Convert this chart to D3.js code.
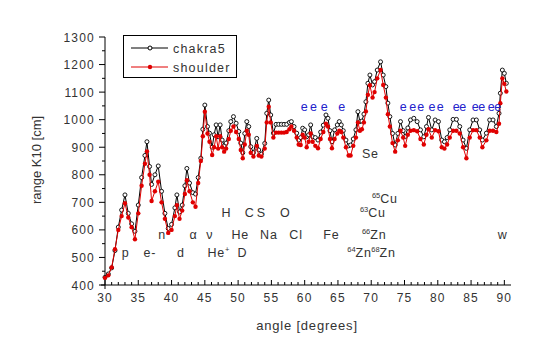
<!DOCTYPE html>
<html>
<head>
<meta charset="utf-8">
<script src="https://cdn.jsdelivr.net/npm/d3@7"></script>
<style>
  body { margin: 0; background: #fff; }
  text { font-family: "Liberation Sans", Arial, sans-serif; fill: #333; }
</style>
</head>
<body>
<div id="chart"></div>
<script>
const angles = [30.0,30.5,31.0,31.5,32.0,32.5,33.0,33.5,34.0,34.5,35.0,35.5,36.0,36.3,36.7,37.0,37.5,38.0,38.5,39.0,39.5,40.0,40.5,40.8,41.2,41.6,42.0,42.3,42.7,43.2,43.6,44.0,44.4,44.7,45.0,45.4,45.7,46.1,46.4,46.7,47.0,47.3,47.6,47.9,48.2,48.6,48.9,49.3,49.7,50.1,50.4,50.7,51.0,51.3,51.6,51.9,52.3,52.8,53.1,53.5,54.0,54.3,54.6,54.9,55.3,55.7,56.1,56.5,56.9,57.3,57.7,58.0,58.4,58.8,59.1,59.4,59.7,60.0,60.3,60.6,60.9,61.2,61.6,62.0,62.4,62.8,63.2,63.5,63.8,64.1,64.5,64.9,65.2,65.5,65.8,66.2,66.6,66.9,67.3,67.7,68.0,68.3,68.6,68.9,69.2,69.5,69.8,70.2,70.5,70.9,71.4,71.8,72.2,72.5,72.8,73.2,73.6,74.0,74.4,74.8,75.1,75.5,75.9,76.4,76.9,77.4,77.9,78.3,78.6,79.1,79.6,80.1,80.6,81.0,81.4,81.8,82.3,82.8,83.3,83.8,84.3,84.8,85.3,85.8,86.3,86.7,87.3,87.8,88.3,88.8,89.2,89.4,89.7,90.0,90.3];

const chakra5 = [428,440,462,525,610,672,727,660,622,595,690,790,870,920,830,765,800,832,740,660,605,620,680,727,665,690,760,823,770,735,730,790,860,965,1053,975,951,900,945,981,938,981,926,905,915,960,993,1011,987,957,915,880,950,993,975,902,880,932,890,875,914,1023,1071,1017,951,983,983,983,983,983,990,993,975,951,926,935,969,963,938,945,981,938,935,926,955,980,1017,1005,960,920,963,981,993,981,960,926,905,908,930,963,1029,993,995,1020,1065,1132,1162,1126,1138,1180,1210,1162,1120,1060,1011,950,908,950,993,960,938,970,999,1005,993,963,938,975,1008,963,999,993,926,920,935,963,1001,1001,975,926,896,963,999,999,963,926,951,999,999,975,1023,1096,1180,1168,1132];

const shoulder = [426,435,464,530,600,650,697,645,610,566,660,760,840,885,800,705,740,775,700,640,589,600,650,690,640,670,730,780,740,700,684,770,850,940,1029,950,920,872,900,940,895,940,900,884,895,930,960,975,955,930,890,860,910,960,945,880,866,905,870,866,895,990,1047,990,935,953,953,953,953,955,965,975,960,935,910,908,945,935,900,920,950,920,905,896,930,955,985,975,930,896,930,950,960,955,935,900,870,870,905,935,990,960,965,990,1030,1090,1125,1080,1100,1150,1180,1126,1080,1020,975,915,884,925,960,935,905,945,960,962,958,930,910,945,965,935,962,958,900,895,910,935,960,960,950,900,860,935,962,962,935,900,925,960,960,955,985,1060,1150,1130,1102];

const xTicks = [30,35,40,45,50,55,60,65,70,75,80,85,90];
const yTicks = [400,500,600,700,800,900,1000,1100,1200,1300];

// element labels: [text, superscript, angle, value] (left edge, baseline)
const elementLabels = [
  ["p", "", 32.5, 503], ["e-", "", 35.8, 503], ["d", "", 40.8, 503],
  ["He", "+", 45.4, 503], ["D", "", 49.9, 503],
  ["n", "", 38.0, 567], ["\u03b1", "", 42.7, 567], ["\u03bd", "", 45.2, 567],
  ["He", "", 49.0, 567], ["Na", "", 53.3, 567], ["Cl", "", 57.7, 567], ["Fe", "", 62.8, 567],
  ["H", "", 47.5, 646], ["C", "", 51.0, 646], ["S", "", 52.8, 646], ["O", "", 56.3, 646],
  ["Se", "", 68.6, 860],
  ["Zn", "64", 66.4, 503], ["Zn", "68", 70.0, 503], ["Zn", "66", 68.6, 567],
  ["Cu", "63", 68.3, 648], ["Cu", "65", 70.1, 698],
  ["w", "", 89.0, 567]
];
const blueText = ["e", "e", "e", "e", "e", "e", "e", "e", "e", "ee", "ee", "ee"];
const blueAngles = [59.4, 60.8, 62.4, 65.05, 74.3, 75.7, 76.9, 78.6, 79.85, 82.25, 85.1, 87.5];

const width = 543, height = 362;
const svg = d3.select("#chart").append("svg")
  .attr("width", width).attr("height", height);

const x = d3.scaleLinear().domain([30, 91]).range([105, 511]);
const y = d3.scaleLinear().domain([400, 1300]).range([285, 37]);

// x axis: ticks pointing up
const gx = svg.append("g").attr("transform", "translate(0,285)");
gx.append("line").attr("x1", 101).attr("x2", 511).attr("stroke", "#000");
gx.selectAll(".minor").data(d3.range(30, 91)).enter().append("line")
  .attr("x1", d => x(d)).attr("x2", d => x(d))
  .attr("y1", 0).attr("y2", d => d % 5 === 0 ? -5 : -3)
  .attr("stroke", "#000");
gx.selectAll("text").data(xTicks).enter().append("text")
  .attr("x", d => x(d)).attr("y", 17)
  .attr("text-anchor", "middle").attr("font-size", 12)
  .attr("letter-spacing", 1.2)
  .text(d => d);

// y axis: ticks pointing left
const gy = svg.append("g").attr("transform", "translate(105,0)");
gy.append("line").attr("y1", 37).attr("y2", 289).attr("stroke", "#000");
gy.selectAll(".minor").data(d3.range(400, 1301, 50)).enter().append("line")
  .attr("y1", d => y(d)).attr("y2", d => y(d))
  .attr("x1", 0).attr("x2", d => d % 100 === 0 ? -6 : -3)
  .attr("stroke", "#000");
gy.selectAll("text").data(yTicks).enter().append("text")
  .attr("x", -10).attr("y", d => y(d) + 4.5)
  .attr("text-anchor", "end").attr("font-size", 12)
  .attr("letter-spacing", 1.2)
  .text(d => d);

svg.append("text").attr("x", 307).attr("y", 330)
  .attr("text-anchor", "middle").attr("font-size", 13)
  .attr("letter-spacing", 0.8)
  .text("angle [degrees]");
svg.append("text")
  .attr("transform", "translate(41,160) rotate(-90)")
  .attr("text-anchor", "middle").attr("font-size", 13)
  .text("range K10 [cm]");

const line = d3.line().x((d, i) => x(angles[i])).y(d => y(d));

// chakra5 series
svg.append("path").datum(chakra5).attr("d", line)
  .attr("fill", "none").attr("stroke", "#000").attr("stroke-width", 1);
svg.append("g").selectAll("circle").data(chakra5).enter().append("circle")
  .attr("cx", (d, i) => x(angles[i])).attr("cy", d => y(d))
  .attr("r", 2).attr("fill", "#fff").attr("stroke", "#000").attr("stroke-width", 0.9);

// shoulder series
svg.append("path").datum(shoulder).attr("d", line)
  .attr("fill", "none").attr("stroke", "#e00000").attr("stroke-width", 1);
svg.append("g").selectAll("circle").data(shoulder).enter().append("circle")
  .attr("cx", (d, i) => x(angles[i])).attr("cy", d => y(d))
  .attr("r", 2.2).attr("fill", "#e00000");

// labels
const lab = svg.append("g");
elementLabels.forEach(([t, sup, a, v]) => {
  const tx = lab.append("text").attr("x", x(a)).attr("y", y(v))
    .attr("font-size", 12.5).attr("letter-spacing", 0.8);
  if (sup && (t === "Zn" || t === "Cu")) {
    tx.append("tspan").attr("font-size", 7.5).attr("dy", -5).attr("letter-spacing", 0).text(sup);
    tx.append("tspan").attr("dy", 5).text(t);
  } else if (sup) {
    tx.append("tspan").text(t);
    tx.append("tspan").attr("font-size", 7.5).attr("dy", -5).text(sup);
  } else {
    tx.text(t);
  }
});
lab.selectAll(".e").data(blueAngles).enter().append("text")
  .attr("x", d => x(d)).attr("y", y(1030))
  .attr("font-size", 12.5).attr("letter-spacing", -0.5)
  .style("fill", "#2222cc")
  .text((d, i) => blueText[i]);

// legend
const lg = svg.append("g");
lg.append("rect").attr("x", 123.5).attr("y", 35.5).attr("width", 113).attr("height", 42)
  .attr("fill", "#fff").attr("stroke", "#000");
lg.append("line").attr("x1", 131).attr("x2", 168).attr("y1", 48).attr("y2", 48).attr("stroke", "#000");
lg.append("circle").attr("cx", 150).attr("cy", 48).attr("r", 2).attr("fill", "#fff").attr("stroke", "#000");
lg.append("line").attr("x1", 131).attr("x2", 168).attr("y1", 67).attr("y2", 67).attr("stroke", "#e00000");
lg.append("circle").attr("cx", 150).attr("cy", 67).attr("r", 2.2).attr("fill", "#e00000");
lg.append("text").attr("x", 173).attr("y", 52.5).attr("font-size", 12.5).attr("letter-spacing", 1.2).text("chakra5");
lg.append("text").attr("x", 173).attr("y", 72).attr("font-size", 12.5).attr("letter-spacing", 1.2).text("shoulder");
</script>
</body>
</html>
